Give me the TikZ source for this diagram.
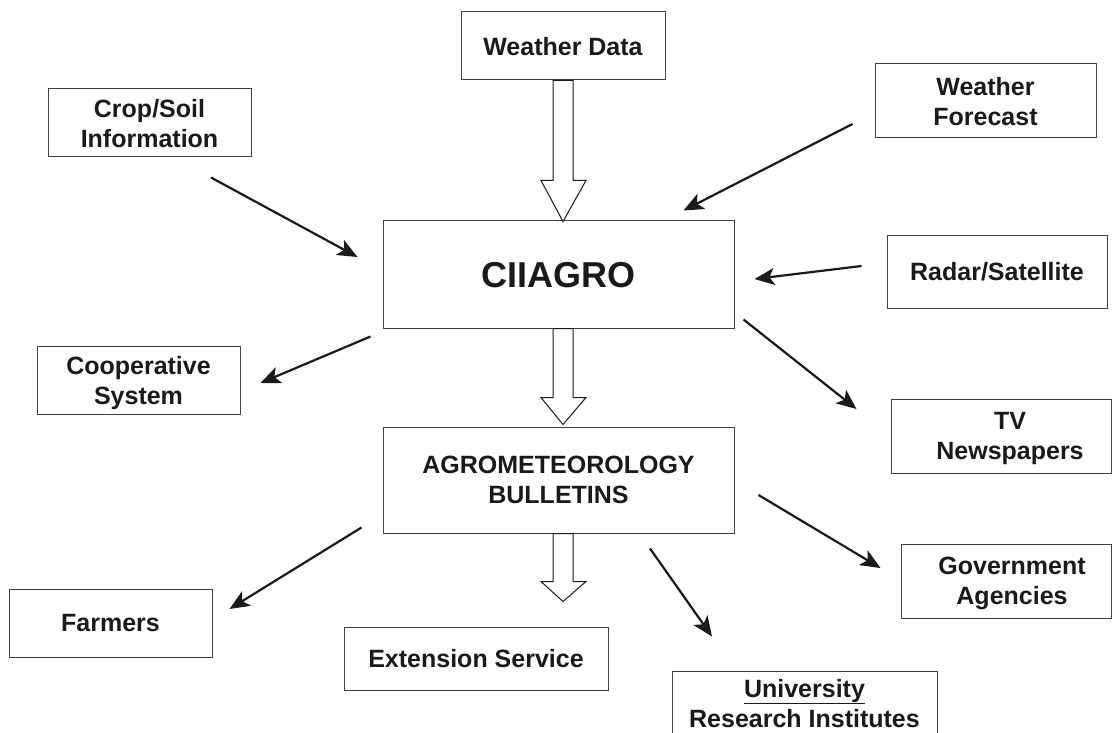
\documentclass[tikz,border=0pt]{standalone}
\usepackage{fontspec}
\setmainfont{Liberation Sans}
\usetikzlibrary{arrows.meta,calc}
\definecolor{ink}{HTML}{1A1A1A}
\definecolor{boxline}{HTML}{404040}
\begin{document}
\begin{tikzpicture}[x=1pt,y=-1pt,
  box/.style={draw=boxline,line width=1pt,inner sep=0pt,align=center,
    font=\fontsize{25}{30}\selectfont\bfseries,text=ink,text depth=0pt},
  arr/.style={draw=ink,line width=2.2pt,-{Stealth[length=20pt,width=17pt,inset=5pt]}},
  hollow/.style={draw=ink,line width=1pt,fill=white,line join=miter}]
\useasboundingbox (0,0) rectangle (1112,733);
\clip (0,0) rectangle (1112,733);
\fill[white] (0,0) rectangle (1112,733);

% boxes
\node[box,minimum width=204pt,minimum height=68pt] (wd) at (563,46) {Weather Data};
\node[box,minimum width=203pt,minimum height=68pt] (crop) at (149.5,123) {Crop/Soil\\Information};
\node[box,minimum width=221pt,minimum height=74pt] (wf) at (985.5,101) {Weather\\Forecast};
\node[box,minimum width=351pt,minimum height=107pt,font=\fontsize{36}{40}\selectfont\bfseries] (cii) at (558.5,274.5) {CIIAGRO};
\node[box,minimum width=220pt,minimum height=73pt] (radar) at (997,271.5) {Radar/Satellite};
\node[box,minimum width=203pt,minimum height=68pt] (coop) at (138.5,380) {Cooperative\\System};
\node[box,minimum width=220pt,minimum height=74pt] (tv) at (1001,436) {\hspace*{18pt}TV\\\hspace*{18pt}Newspapers};
\node[box,minimum width=351pt,minimum height=106pt] (agro) at (558.5,480) {AGROMETEOROLOGY\\BULLETINS};
\node[box,minimum width=210pt,minimum height=74pt] (gov) at (1006,581) {\hspace*{12pt}Government\\\hspace*{12pt}Agencies};
\node[box,minimum width=203pt,minimum height=68pt] (farm) at (110.5,623) {Farmers};
\node[box,minimum width=264pt,minimum height=63pt] (ext) at (476,658.5) {Extension Service};
\node[box,minimum width=265pt,minimum height=64pt] (univ) at (804.5,703) {\underline{University}\\Research Institutes};

% hollow block arrows
\draw[hollow] ($(wd.south)+(-10,0)$) -- ++(0,100) -- ++(-12,0) -- ++(22,41)
  -- ++(23,-41) -- ++(-13,0) -- ++(0,-100) -- cycle;
\draw[hollow] ($(wd.south |- cii.south)+(-10,0)$) -- ++(0,69) -- ++(-12,0) -- ++(22,27)
  -- ++(23,-27) -- ++(-13,0) -- ++(0,-69) -- cycle;
\draw[hollow] ($(wd.south |- agro.south)+(-10,0)$) -- ++(0,48) -- ++(-12,0) -- ++(22,20)
  -- ++(23,-20) -- ++(-13,0) -- ++(0,-48) -- cycle;

% solid arrows
\draw[arr] ($(crop.south)+(61.5,20)$) -- ($(cii.west)+(-25,-17.5)$);
\draw[arr] ($(wf.west)+(-22,23)$) -- ($(cii.north east)+(-51,-10)$);
\draw[arr] ($(radar.west)+(-25,-5.5)$) -- ($(cii.east)+(20,4.5)$);
\draw[arr] ($(cii.south west)+(-12,8)$) -- ($(coop.east)+(20,3)$);
\draw[arr] ($(cii.south east)+(9,-9)$) -- ($(tv.west)+(-34,-27)$);
\draw[arr] ($(agro.east)+(24,15)$) -- ($(gov.west)+(-20,-13)$);
\draw[arr] ($(agro.south)+(91.5,15)$) -- ($(univ.north)+(-92.5,-34)$);
\draw[arr] ($(agro.south west)+(-21,-6)$) -- ($(farm.east)+(17,-14)$);
\end{tikzpicture}
\end{document}
